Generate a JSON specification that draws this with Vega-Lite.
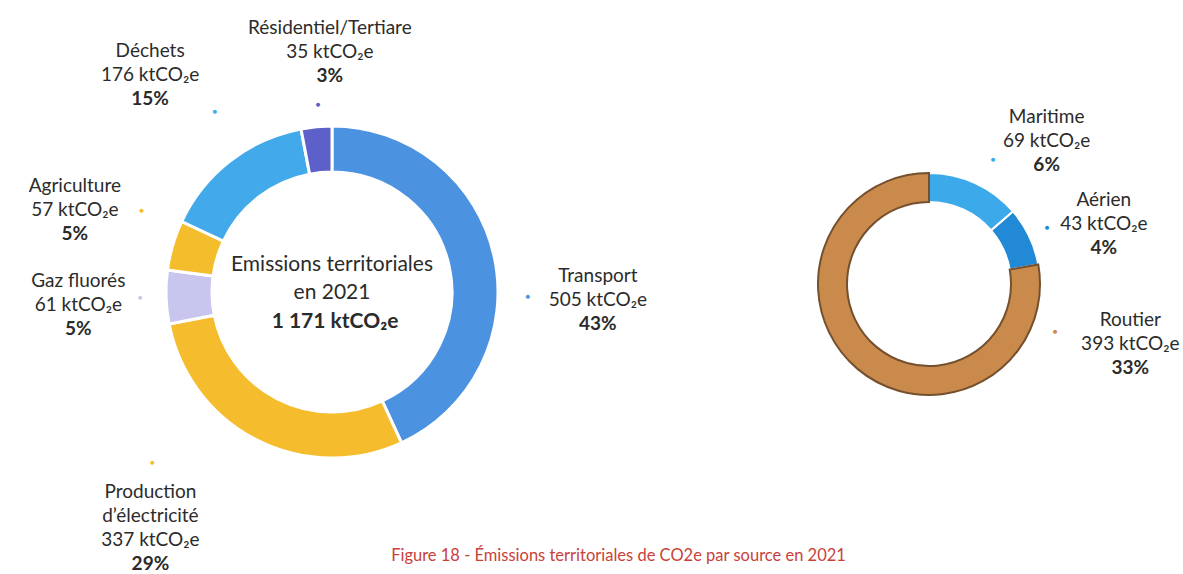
{
  "$schema": "https://vega.github.io/schema/vega-lite/v6.json",
  "padding": {"left": 0, "top": 10, "right": 0, "bottom": 0},
  "spacing": 11,
  "background": "white",
  "title": {
    "text": "Figure 18 - Émissions territoriales de CO2e par source en 2021",
    "orient": "bottom",
    "anchor": "middle",
    "offset": -26,
    "dx": 27,
    "color": "#c8423a",
    "font": "Lato",
    "fontSize": 16.5,
    "fontWeight": "normal"
  },
  "datasets": {
    "emissions": [
      {"i": 1, "name": "Transport", "value": 505, "pct": 43},
      {"i": 2, "name": "Production d’électricité", "value": 337, "pct": 29},
      {"i": 3, "name": "Gaz fluorés", "value": 61, "pct": 5},
      {"i": 4, "name": "Agriculture", "value": 57, "pct": 5},
      {"i": 5, "name": "Déchets", "value": 176, "pct": 15},
      {"i": 6, "name": "Résidentiel/Tertiare", "value": 35, "pct": 3}
    ],
    "transport": [
      {"i": 1, "name": "Maritime", "value": 69, "pct": 6},
      {"i": 2, "name": "Aérien", "value": 43, "pct": 4},
      {"i": 3, "name": "Routier", "value": 393, "pct": 33}
    ]
  },
  "hconcat": [
    {
      "width": 664,
      "height": 564,
      "data": {"name": "emissions"},
      "transform": [
        {"calculate": "replace(datum.name, 'Production ', 'Production\\n') + '\\n' + datum.value + ' ktCO₂e'", "as": "main"},
        {"calculate": "datum.pct + '%'", "as": "pctLabel"}
      ],
      "layer": [
        {
          "mark": {"type": "arc", "outerRadius": 166, "innerRadius": 120, "stroke": "white", "strokeWidth": 3},
          "encoding": {
            "theta": {"field": "value", "type": "quantitative", "stack": true},
            "order": {"field": "i", "type": "quantitative"},
            "color": {
              "field": "name", "type": "nominal", "legend": null,
              "scale": {
                "domain": ["Transport", "Production d’électricité", "Gaz fluorés", "Agriculture", "Déchets", "Résidentiel/Tertiare"],
                "range": ["#4b92e0", "#f5bd2e", "#c8c6ee", "#f4bd2c", "#42aaea", "#5d60c8"]
              }
            }
          }
        },
        {
          "mark": {
            "type": "text", "radius": 265,
            "thetaOffset": {"expr": "{'Transport': 0.246, 'Production d’électricité': 0.183, 'Gaz fluorés': -0.02, 'Agriculture': 0.024, 'Déchets': -0.038, 'Résidentiel/Tertiare': 0.085}[datum.name]"},
            "radiusOffset": {"expr": "{'Transport': 1, 'Production d’électricité': 33, 'Gaz fluorés': -11, 'Agriculture': 5, 'Déchets': 18, 'Résidentiel/Tertiare': -25}[datum.name]"},
            "dy": {"expr": "datum.name === 'Production d’électricité' ? -36 : -24"},
            "lineBreak": "\n", "baseline": "middle", "fontSize": 19, "lineHeight": 24,
            "font": "Lato", "color": "#2b2b2b"
          },
          "encoding": {
            "theta": {"field": "value", "type": "quantitative", "stack": true},
            "order": {"field": "i", "type": "quantitative"},
            "text": {"field": "main", "type": "nominal"}
          }
        },
        {
          "mark": {
            "type": "text", "radius": 265,
            "thetaOffset": {"expr": "{'Transport': 0.246, 'Production d’électricité': 0.183, 'Gaz fluorés': -0.02, 'Agriculture': 0.024, 'Déchets': -0.038, 'Résidentiel/Tertiare': 0.085}[datum.name]"},
            "radiusOffset": {"expr": "{'Transport': 1, 'Production d’électricité': 33, 'Gaz fluorés': -11, 'Agriculture': 5, 'Déchets': 18, 'Résidentiel/Tertiare': -25}[datum.name]"},
            "dy": {"expr": "datum.name === 'Production d’électricité' ? 36 : 24"},
            "baseline": "middle", "fontSize": 19, "fontWeight": "bold",
            "font": "Lato", "color": "#2b2b2b"
          },
          "encoding": {
            "theta": {"field": "value", "type": "quantitative", "stack": true},
            "order": {"field": "i", "type": "quantitative"},
            "text": {"field": "pctLabel", "type": "nominal"}
          }
        },
        {
          "mark": {
            "type": "text", "text": "●", "radius": 200, "fontSize": 8, "baseline": "middle",
            "thetaOffset": {"expr": "{'Transport': 0.243, 'Production d’électricité': 0.337, 'Gaz fluorés': 0, 'Agriculture': 0.117, 'Déchets': 0.084, 'Résidentiel/Tertiare': 0.02}[datum.name]"},
            "radiusOffset": {"expr": "{'Transport': -4, 'Production d’électricité': 48, 'Gaz fluorés': -8, 'Agriculture': 7, 'Déchets': 15, 'Résidentiel/Tertiare': -12}[datum.name]"}
          },
          "encoding": {
            "theta": {"field": "value", "type": "quantitative", "stack": true},
            "order": {"field": "i", "type": "quantitative"},
            "color": {"field": "name", "type": "nominal", "legend": null}
          }
        },
        {
          "transform": [{"aggregate": [{"op": "sum", "field": "value", "as": "total"}]}],
          "mark": {
            "type": "text", "text": ["Emissions territoriales", "en 2021"], "baseline": "middle",
            "lineHeight": 28, "dy": -27, "fontSize": 21, "font": "Lato", "color": "#2b2b2b"
          }
        },
        {
          "transform": [
            {"aggregate": [{"op": "sum", "field": "value", "as": "total"}]},
            {"calculate": "replace(format(datum.total, ','), ',', ' ') + ' ktCO₂e'", "as": "totalLabel"}
          ],
          "mark": {
            "type": "text", "baseline": "middle", "dy": 30, "dx": 3, "fontSize": 21, "fontWeight": "bold",
            "font": "Lato", "color": "#2b2b2b"
          },
          "encoding": {"text": {"field": "totalLabel", "type": "nominal"}}
        }
      ]
    },
    {
      "width": 508,
      "height": 548,
      "data": {"name": "transport"},
      "transform": [
        {"calculate": "datum.name + '\\n' + datum.value + ' ktCO₂e'", "as": "main"},
        {"calculate": "datum.pct + '%'", "as": "pctLabel"}
      ],
      "layer": [
        {
          "mark": {"type": "arc", "outerRadius": 111, "innerRadius": 82, "strokeWidth": 2},
          "encoding": {
            "theta": {"field": "value", "type": "quantitative", "stack": true},
            "order": {"field": "i", "type": "quantitative"},
            "color": {
              "field": "name", "type": "nominal", "legend": null,
              "scale": {"domain": ["Maritime", "Aérien", "Routier"], "range": ["#3ca9ea", "#2189d6", "#c98a4b"]}
            },
            "stroke": {"condition": {"test": "datum.name === 'Routier'", "value": "#74502e"}, "value": "white"}
          }
        },
        {
          "mark": {
            "type": "text", "radius": 185,
            "thetaOffset": {"expr": "{'Maritime': 0.26, 'Aérien': 0.112, 'Routier': -1.979}[datum.name]"},
            "radiusOffset": {"expr": "{'Maritime': 0, 'Aérien': 0, 'Routier': 25}[datum.name]"},
            "dy": -24,
            "lineBreak": "\n", "baseline": "middle", "fontSize": 19, "lineHeight": 24,
            "font": "Lato", "color": "#2b2b2b"
          },
          "encoding": {
            "theta": {"field": "value", "type": "quantitative", "stack": true},
            "order": {"field": "i", "type": "quantitative"},
            "text": {"field": "main", "type": "nominal"}
          }
        },
        {
          "mark": {
            "type": "text", "radius": 185,
            "thetaOffset": {"expr": "{'Maritime': 0.26, 'Aérien': 0.112, 'Routier': -1.979}[datum.name]"},
            "radiusOffset": {"expr": "{'Maritime': 0, 'Aérien': 0, 'Routier': 25}[datum.name]"},
            "dy": 24,
            "baseline": "middle", "fontSize": 19, "fontWeight": "bold",
            "font": "Lato", "color": "#2b2b2b"
          },
          "encoding": {
            "theta": {"field": "value", "type": "quantitative", "stack": true},
            "order": {"field": "i", "type": "quantitative"},
            "text": {"field": "pctLabel", "type": "nominal"}
          }
        },
        {
          "mark": {
            "type": "text", "text": "●", "radius": 136, "fontSize": 8, "baseline": "middle",
            "thetaOffset": {"expr": "{'Maritime': 0.047, 'Aérien': 0, 'Routier': -1.904}[datum.name]"},
            "radiusOffset": {"expr": "{'Maritime': 4, 'Aérien': -5, 'Routier': -1}[datum.name]"}
          },
          "encoding": {
            "theta": {"field": "value", "type": "quantitative", "stack": true},
            "order": {"field": "i", "type": "quantitative"},
            "color": {"field": "name", "type": "nominal", "legend": null}
          }
        }
      ]
    }
  ],
  "resolve": {"scale": {"color": "independent", "theta": "independent"}},
  "config": {"view": {"stroke": null}, "font": "Lato"}
}
